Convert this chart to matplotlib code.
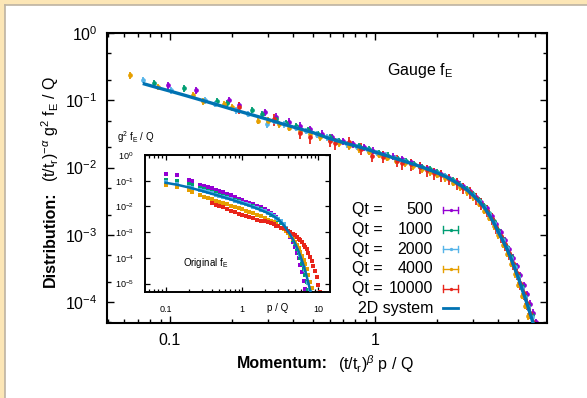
import numpy as np
import matplotlib
matplotlib.use("Agg")
import matplotlib.pyplot as plt
from matplotlib.ticker import LogLocator, FixedLocator, FixedFormatter, NullLocator, NullFormatter
from matplotlib.patches import Rectangle
from matplotlib.lines import Line2D
from matplotlib.text import Annotation

plt.rcParams['font.family'] = ['Liberation Sans', 'DejaVu Sans']
plt.rcParams['mathtext.fontset'] = 'custom'
plt.rcParams['mathtext.rm'] = 'Liberation Sans'
plt.rcParams['mathtext.it'] = 'Liberation Sans:italic'
plt.rcParams['mathtext.bf'] = 'Liberation Sans:bold'

# ---------------------------------------------------------------- data
qt_labels = ["500", "1000", "2000", "4000", "10000"]
colors = ["#9400d3", "#009e73", "#56b4e9", "#e69f00", "#e8251a"]
line_color = "#0072b2"

# rescaled distributions (main panel)
main_x_500 = [0.098, 0.134, 0.195, 0.218, 0.29, 0.33, 0.38, 0.43, 0.48, 0.55, 0.62, 0.70, 0.78, 0.88,
              0.98, 1.1, 1.22, 1.35, 1.5, 1.65, 1.8, 1.95, 2.1, 2.3, 2.5, 2.7, 2.9, 3.1, 3.3, 3.5,
              3.7, 3.9, 4.1, 4.3, 4.5, 4.7, 4.9, 5.1, 5.3, 5.5, 5.7, 5.9, 6.1]
main_y_500 = [0.167, 0.141, 0.100, 0.084, 0.066, 0.057, 0.048, 0.042, 0.037, 0.032, 0.028, 0.0247,
              0.0222, 0.020, 0.0179, 0.016, 0.0145, 0.0132, 0.0119, 0.0107, 0.0098, 0.0089, 0.0081,
              0.0071, 0.0062, 0.0053, 0.0045, 0.0037, 0.0031, 0.0025, 0.0019, 0.00145, 0.0011,
              0.00083, 0.00062, 0.00046, 0.00034, 0.00025, 0.00018, 0.00013, 0.000095, 0.00007,
              0.00005]

main_x_1000 = [0.084, 0.117, 0.17, 0.19, 0.25, 0.28, 0.33, 0.37, 0.41, 0.47, 0.53, 0.6, 0.67, 0.75,
               0.84, 0.94, 1.05, 1.16, 1.29, 1.42, 1.55, 1.7, 1.85, 2.0, 2.2, 2.4, 2.6, 2.8, 3.0,
               3.2, 3.4, 3.6, 3.8, 4.0, 4.2, 4.4, 4.6, 4.8, 5.0, 5.2, 5.4, 5.6, 5.8, 6.0]
main_y_1000 = [0.18, 0.15, 0.097, 0.09, 0.072, 0.062, 0.052, 0.046, 0.041, 0.0365, 0.032, 0.028,
               0.0252, 0.0228, 0.0206, 0.0186, 0.0166, 0.0151, 0.0136, 0.0124, 0.0114, 0.0103,
               0.0094, 0.0086, 0.0075, 0.0065, 0.0056, 0.0048, 0.0040, 0.0033, 0.0027, 0.0021,
               0.0016, 0.00117, 0.00088, 0.00066, 0.00048, 0.00034, 0.00025, 0.000175, 0.000125,
               0.00009, 0.000064, 0.000046]

main_x_2000 = [0.074, 0.101, 0.148, 0.165, 0.21, 0.24, 0.296, 0.32, 0.36, 0.41, 0.46, 0.52, 0.58,
               0.65, 0.73, 0.82, 0.92, 1.02, 1.13, 1.25, 1.38, 1.52, 1.66, 1.82, 2.0, 2.2, 2.4,
               2.6, 2.8, 3.0, 3.2, 3.4, 3.6, 3.8, 4.0, 4.2, 4.4, 4.6, 4.8, 5.0, 5.2, 5.4, 5.6,
               5.8, 6.0]
main_y_2000 = [0.20, 0.14, 0.10, 0.089, 0.071, 0.063, 0.044, 0.049, 0.044, 0.039, 0.035, 0.031,
               0.028, 0.0247, 0.0223, 0.0203, 0.0183, 0.0166, 0.0151, 0.0137, 0.0125, 0.0113,
               0.0103, 0.0093, 0.0084, 0.0074, 0.0064, 0.0055, 0.0047, 0.0039, 0.0032, 0.0026,
               0.00202, 0.00152, 0.00111, 0.00083, 0.00063, 0.00046, 0.00033, 0.00024, 0.000165,
               0.000118, 0.000084, 0.00006, 0.000043]

main_x_4000 = [0.064, 0.087, 0.13, 0.145, 0.184, 0.2, 0.27, 0.3, 0.34, 0.38, 0.43, 0.48, 0.54,
               0.6, 0.67, 0.75, 0.84, 0.94, 1.04, 1.15, 1.27, 1.4, 1.54, 1.69, 1.85, 2.0, 2.2,
               2.4, 2.6, 2.8, 3.0, 3.2, 3.4, 3.6, 3.8, 4.0, 4.2, 4.4, 4.6, 4.8, 5.0, 5.2, 5.4,
               5.6, 5.8]
main_y_4000 = [0.236, 0.16, 0.12, 0.097, 0.087, 0.079, 0.05, 0.05, 0.044, 0.039, 0.035, 0.0315,
               0.028, 0.0255, 0.023, 0.0208, 0.0188, 0.017, 0.0154, 0.014, 0.0127, 0.0115,
               0.0104, 0.0094, 0.0085, 0.0078, 0.0069, 0.006, 0.0051, 0.0043, 0.0036, 0.0029,
               0.0023, 0.0018, 0.00135, 0.00098, 0.00071, 0.00052, 0.00037, 0.00026, 0.00018,
               0.000125, 0.000088, 0.000062, 0.000043]

main_x_10000 = [0.216, 0.32, 0.43, 0.48, 0.6, 0.64, 0.75, 0.85, 0.97, 1.1, 1.28, 1.36, 1.5, 1.65,
                1.8, 1.95, 2.1, 2.3, 2.5, 2.7, 2.9, 3.1, 3.3, 3.5, 3.7, 3.9, 4.1, 4.3, 4.5, 4.7,
                4.9, 5.1, 5.3, 5.5, 5.7, 5.9]
main_y_10000 = [0.079, 0.052, 0.033, 0.028, 0.025, 0.023, 0.024, 0.019, 0.015, 0.0145, 0.0127,
                0.0115, 0.0112, 0.0102, 0.0091, 0.0083, 0.0077, 0.0068, 0.0059, 0.005, 0.0043,
                0.0035, 0.0029, 0.0023, 0.00175, 0.0013, 0.00096, 0.00072, 0.00053, 0.00038,
                0.00027, 0.00019, 0.000135, 0.000097, 0.00007, 0.00005]

# relative statistical errors per data set
rel_err = [0.12, 0.11, 0.11, 0.11, 0.2]

# 2D system reference curve (rescaled)
sys2d_x = [0.075, 0.085, 0.1, 0.12, 0.15, 0.2, 0.25, 0.3, 0.35, 0.4, 0.5, 0.6, 0.7, 0.8, 0.9, 1.0,
           1.2, 1.4, 1.6, 1.8, 2.0, 2.2, 2.4, 2.6, 2.8, 3.0, 3.2, 3.4, 3.6, 3.8, 4.0, 4.2, 4.4,
           4.6, 4.8, 5.0, 5.2, 5.4, 5.6, 5.8, 6.0, 6.2]
sys2d_y = [0.175, 0.157, 0.137, 0.117, 0.096, 0.074, 0.061, 0.052, 0.045, 0.040, 0.033, 0.027,
           0.0235, 0.021, 0.019, 0.017, 0.0143, 0.0123, 0.0108, 0.0095, 0.0084, 0.0074, 0.0064,
           0.0055, 0.0047, 0.0039, 0.0032, 0.0026, 0.0020, 0.0015, 0.0011, 0.00082, 0.00062,
           0.00045, 0.00032, 0.00023, 0.00016, 0.000115, 0.000082, 0.000058, 0.000042, 0.00003]

# original (unscaled) distributions, inset
inset_p = [0.1, 0.14, 0.2, 0.22, 0.28, 0.32, 0.36, 0.4, 0.45, 0.5, 0.57, 0.64, 0.72, 0.8, 0.9,
           1.0, 1.12, 1.25, 1.4, 1.58, 1.78, 2.0, 2.2, 2.4, 2.6, 2.8, 3.0, 3.25, 3.5, 3.75, 4.0,
           4.3, 4.6, 4.9, 5.2, 5.5, 5.8, 6.1, 6.4, 6.7, 7.0, 7.4, 7.8, 8.2, 8.6, 9.0, 9.5, 10.0,
           10.5, 11.0]
inset_y_500 = [0.19, 0.16, 0.11, 0.1, 0.07, 0.062, 0.055, 0.05, 0.045, 0.04, 0.035, 0.031, 0.027,
               0.023, 0.02, 0.0175, 0.0155, 0.0138, 0.0122, 0.0106, 0.0091, 0.0077, 0.0066,
               0.0056, 0.0047, 0.0039, 0.0032, 0.0025, 0.0018, 0.0013, 0.00092, 0.00062, 0.00041,
               0.00026, 0.00016, 9.5e-5, 5.2e-5, 2.7e-5, 1.3e-5, 6e-6, 2.5e-6]
inset_y_1000 = [0.11, 0.095, 0.075, 0.068, 0.052, 0.046, 0.041, 0.037, 0.033, 0.029, 0.026,
                0.023, 0.02, 0.018, 0.016, 0.0142, 0.0127, 0.0113, 0.01, 0.0088, 0.0076, 0.0065,
                0.0056, 0.0048, 0.0041, 0.0034, 0.0029, 0.0022, 0.0017, 0.00128, 0.00097, 0.0007,
                0.0005, 0.00034, 0.00023, 0.00015, 9.5e-5, 6e-5, 3.6e-5, 2.1e-5, 1.2e-5, 5.5e-6,
                2.3e-6]
inset_y_2000 = [0.088, 0.074, 0.058, 0.054, 0.044, 0.039, 0.035, 0.032, 0.029, 0.0265, 0.0235,
                0.021, 0.0188, 0.017, 0.0153, 0.0138, 0.0124, 0.011, 0.0098, 0.0086, 0.0074,
                0.0064, 0.0056, 0.0049, 0.0043, 0.0037, 0.0032, 0.0026, 0.002, 0.0015, 0.00115,
                0.0008, 0.00056, 0.00039, 0.00027, 0.00019, 0.00013, 8.5e-5, 5.5e-5, 3.5e-5,
                2.1e-5, 1.1e-5, 5.5e-6, 2.6e-6]
inset_y_4000 = [0.067, 0.055, 0.042, 0.038, 0.028, 0.024, 0.021, 0.019, 0.017, 0.015, 0.0135,
                0.012, 0.0107, 0.0096, 0.0086, 0.0077, 0.0069, 0.0062, 0.0055, 0.0048, 0.0042,
                0.0036, 0.0031, 0.0027, 0.0024, 0.0021, 0.0018, 0.0015, 0.0013, 0.0011, 0.00092,
                0.00072, 0.00056, 0.00043, 0.00032, 0.00024, 0.00017, 0.00012, 8.5e-5, 5.8e-5,
                3.8e-5, 2.2e-5, 1.2e-5, 6.5e-6, 3.2e-6]
inset_p_10000 = inset_p[7:]
inset_y_10000 = [0.013, 0.0118, 0.0105, 0.0092, 0.0078, 0.0068, 0.006, 0.0052, 0.0046, 0.0042,
                 0.0038, 0.0034, 0.0031, 0.0028, 0.0026, 0.0024, 0.0022, 0.002, 0.0018, 0.0017,
                 0.0015, 0.0014, 0.0013, 0.00115, 0.001, 0.00088, 0.00077, 0.00066, 0.00056,
                 0.00048, 0.0004, 0.00033, 0.00027, 0.00022, 0.00016, 0.00011, 7.5e-5, 5e-5,
                 3.2e-5, 1.8e-5, 9e-6, 4.5e-6, 2e-6]
inset_err = 0.12

inset_sys_p = [0.1, 0.14, 0.2, 0.3, 0.4, 0.5, 0.7, 1.0, 1.4, 2.0, 2.5, 3.0, 3.5, 4.0, 4.5, 5.0,
               5.5, 6.0, 6.5, 7.0, 7.5, 8.0, 8.4]
inset_sys_y = [0.083, 0.07, 0.055, 0.04, 0.031, 0.026, 0.019, 0.0135, 0.0095, 0.0062, 0.0045,
               0.0031, 0.0019, 0.0011, 0.00062, 0.00034, 0.00018, 9e-5, 4.4e-5, 2e-5, 9e-6, 4e-6,
               1.8e-6]

main_sets = [(main_x_500, main_y_500), (main_x_1000, main_y_1000), (main_x_2000, main_y_2000),
             (main_x_4000, main_y_4000), (main_x_10000, main_y_10000)]
inset_sets = [(inset_p[:len(inset_y_500)], inset_y_500),
              (inset_p[:len(inset_y_1000)], inset_y_1000),
              (inset_p[:len(inset_y_2000)], inset_y_2000),
              (inset_p[:len(inset_y_4000)], inset_y_4000),
              (inset_p_10000, inset_y_10000)]

# ---------------------------------------------------------------- figure
W, H = 587, 398
FS = 11.5
fig = plt.figure(figsize=(W / 100, H / 100), dpi=100, facecolor="#fce6b6")
fig.patches.append(Rectangle((5 / W, 0), 1 - 5 / W, 1 - 5 / H, transform=fig.transFigure,
                             facecolor="white", edgecolor="none", zorder=-10))
fig.add_artist(Line2D([4.5 / W, 4.5 / W], [0, 1 - 4.5 / H], color="#bdb3a2", lw=1.2,
                      transform=fig.transFigure, zorder=-9))
fig.add_artist(Line2D([4.5 / W, 1], [1 - 4.5 / H, 1 - 4.5 / H], color="#bdb3a2", lw=1.2,
                      transform=fig.transFigure, zorder=-9))

ax = fig.add_axes([107 / W, 75 / H, 440 / W, 290 / H])
ax.set_xscale("log")
ax.set_yscale("log")
ax.set_xlim(0.0493, 6.9)
ax.set_ylim(4.9e-5, 1.0)

for (xs, ys), c, e in zip(main_sets, colors, rel_err):
    xs = np.asarray(xs)
    ys = np.asarray(ys)
    ax.errorbar(xs, ys, yerr=ys * e, fmt="o", ms=3.4, color=c, ecolor=c, elinewidth=1.3,
                capsize=2.4, capthick=1.2, mew=0)
ax.plot(sys2d_x, sys2d_y, color=line_color, lw=2.4, zorder=5)

ax.xaxis.set_major_locator(FixedLocator([0.1, 1.0]))
ax.xaxis.set_major_formatter(FixedFormatter(["0.1", "1"]))
ax.xaxis.set_minor_locator(LogLocator(base=10, subs=np.arange(2, 10), numticks=20))
ax.xaxis.set_minor_formatter(NullFormatter())
ax.yaxis.set_major_locator(LogLocator(base=10, numticks=10))
ax.yaxis.set_minor_locator(LogLocator(base=10, subs=(2, 5), numticks=20))
ax.yaxis.set_minor_formatter(NullFormatter())
ax.tick_params(which="both", direction="in", top=True, right=True, width=1.0, labelsize=FS)
ax.tick_params(which="major", length=5)
ax.tick_params(which="minor", length=3)
ax.tick_params(axis="x", pad=7)
ax.tick_params(axis="y", pad=7)
for s in ax.spines.values():
    s.set_linewidth(1.5)

ax.text(0.711, 0.872, r"Gauge f$_\mathrm{E}$", transform=ax.transAxes, ha="center",
        va="center", fontsize=FS)

# key
row_top, row_step = 0.390, 0.0679
for i, lab in enumerate(qt_labels + ["2D system"]):
    y = row_top - i * row_step
    if i < len(qt_labels):
        ax.text(0.557, y, "Qt =", transform=ax.transAxes, ha="left", va="center", fontsize=FS)
    ax.text(0.741, y, lab, transform=ax.transAxes, ha="right", va="center", fontsize=FS)
    if i < len(qt_labels):
        c = colors[i]
        ax.plot([0.764, 0.798], [y, y], transform=ax.transAxes, color=c, lw=1.0, clip_on=False)
        for xe in (0.764, 0.798):
            ax.plot([xe, xe], [y - 0.011, y + 0.011], transform=ax.transAxes, color=c,
                    lw=1.0, clip_on=False)
        ax.plot([0.781], [y], "o", ms=2.4, mew=0, color=c, transform=ax.transAxes)
    else:
        ax.plot([0.764, 0.798], [y, y], transform=ax.transAxes, color=line_color, lw=2.0)

# axis titles: bold lead word followed by the quantity
xl = fig.text(237 / W, 1 - 364 / H, "Momentum:", ha="left", va="center", fontsize=FS,
              fontweight="bold")
fig.add_artist(Annotation(r"(t/t$_\mathrm{r}$)$^\beta$ p / Q", xy=(1, 0.5),
                          xycoords=xl, xytext=(7, 0), textcoords="offset points",
                          ha="left", va="center", fontsize=FS))
yl = fig.text(50 / W, 1 - 287 / H, "Distribution:", ha="center", va="bottom", fontsize=FS,
              fontweight="bold", rotation=90)
fig.add_artist(Annotation(r"(t/t$_\mathrm{r}$)$^{-\alpha}$ g$^2$ f$_\mathrm{E}$ / Q",
                          xy=(0.5, 1), xycoords=yl, xytext=(0, 7),
                          textcoords="offset points", ha="center", va="bottom",
                          rotation=90, fontsize=FS))

# ---------------------------------------------------------------- inset
axi = fig.add_axes([145 / W, (H - 292) / H, 185 / W, 137 / H])
axi.set_xscale("log")
axi.set_yscale("log")
axi.set_xlim(0.0536, 14.2)
axi.set_ylim(4.7e-6, 1.0)
for (xs, ys), c in zip(inset_sets, colors):
    xs = np.asarray(xs)
    ys = np.asarray(ys)
    axi.errorbar(xs, ys, yerr=ys * inset_err, fmt="s", ms=3.3, color=c, ecolor=c,
                 elinewidth=1.1, capsize=1.6, capthick=1.0, mew=0)
axi.plot(inset_sys_p, inset_sys_y, color=line_color, lw=1.8, zorder=5)

axi.xaxis.set_major_locator(FixedLocator([0.1, 1.0, 10.0]))
axi.xaxis.set_major_formatter(FixedFormatter(["0.1", "1", "10"]))
axi.xaxis.set_minor_locator(LogLocator(base=10, subs=np.arange(2, 10), numticks=20))
axi.xaxis.set_minor_formatter(NullFormatter())
axi.yaxis.set_major_locator(LogLocator(base=10, numticks=10))
axi.yaxis.set_minor_locator(NullLocator())
axi.tick_params(which="both", direction="in", top=True, right=True, width=0.9, labelsize=6.5)
axi.tick_params(which="major", length=3.5)
axi.tick_params(which="minor", length=2)
axi.tick_params(axis="x", pad=9)
axi.tick_params(axis="y", pad=8)
for s in axi.spines.values():
    s.set_linewidth(1.4)

axi.text(2.9, -0.117, "p / Q", transform=axi.get_xaxis_transform(), ha="center", va="center",
         fontsize=7)
axi.text(0.33, 0.212, r"Original f$_\mathrm{E}$", transform=axi.transAxes, ha="center",
         va="center", fontsize=7)
fig.text(136 / W, 1 - 137 / H, r"g$^2$ f$_\mathrm{E}$ / Q", ha="center", va="center", fontsize=7)

fig.savefig("out.png", dpi=100, facecolor=fig.get_facecolor())
